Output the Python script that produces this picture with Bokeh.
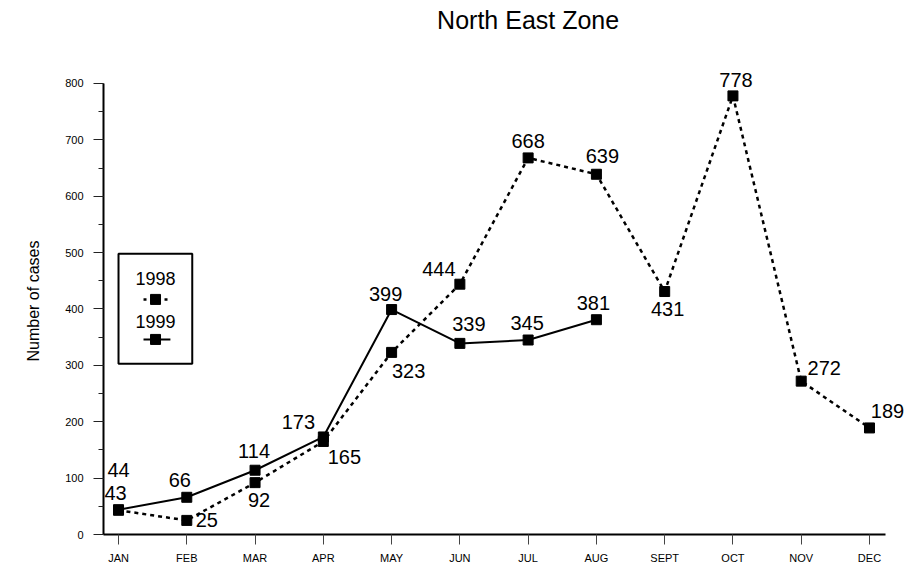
from bokeh.plotting import figure
from bokeh.models import (FixedTicker, SingleIntervalTicker, Range1d, Label,
                          BoxAnnotation, ColumnDataSource, Title)
from bokeh.embed import file_html
from bokeh.resources import INLINE
from bokeh.core.properties import value

# ---- data ----
months = ["JAN", "FEB", "MAR", "APR", "MAY", "JUN", "JUL", "AUG", "SEPT", "OCT", "NOV", "DEC"]
cases_1998 = [43, 25, 92, 165, 323, 444, 668, 639, 431, 778, 272, 189]
cases_1999 = [44, 66, 114, 173, 399, 339, 345, 381]
title_text = "North East Zone"
y_label = "Number of cases"

# label offsets (pixels) for value annotations
off_1998_x = [-3, 20, 4, 21, 17, -21, 0, 6, 3, 3, 23, 18]
off_1998_y = [17, 0, -17, -16, -19, 15, 17, 18, -17, 16, 13, 17]
off_1999_x = [0, -7, -1, -25, -6, 9, -1, -3]
off_1999_y = [40, 17, 19, 15, 16, 19, 17, 17]

FONT = "Liberation Sans"

p = figure(width=915, height=574, output_backend="svg", toolbar_location=None,
           x_range=Range1d(-0.22, 11.674), y_range=Range1d(0, 947.2),
           min_border_left=103, min_border_right=0, min_border_top=0,
           min_border_bottom=40)
p.outline_line_color = None
p.xgrid.visible = False
p.ygrid.visible = False
p.background_fill_color = "white"
p.border_fill_color = "white"

xs98 = list(range(len(cases_1998)))
xs99 = list(range(len(cases_1999)))

src98 = ColumnDataSource(dict(x=xs98, y=cases_1998, t=[str(v) for v in cases_1998],
                              dx=off_1998_x, dy=[-v for v in off_1998_y]))
src99 = ColumnDataSource(dict(x=xs99, y=cases_1999, t=[str(v) for v in cases_1999],
                              dx=off_1999_x, dy=[-v for v in off_1999_y]))

p.line("x", "y", source=src98, line_color="black", line_width=2.5, line_dash="4 4")
p.scatter("x", "y", source=src98, marker="square", size=10, color="black")
p.line("x", "y", source=src99, line_color="black", line_width=2)
p.scatter("x", "y", source=src99, marker="square", size=10, color="black")

for src in (src98, src99):
    p.text("x", "y", text="t", source=src, x_offset="dx", y_offset="dy",
           text_align="center", text_baseline="middle", text_font=value(FONT),
           text_font_size="20px", text_color="black")

# axes
xa = p.xaxis[0]
xa.ticker = FixedTicker(ticks=xs98)
xa.bounds = (-0.22, 11.234)
xa.major_label_overrides = {i: m for i, m in enumerate(months)}
xa.minor_tick_line_color = None
xa.major_tick_in = 0
xa.major_tick_out = 10
xa.major_tick_line_color = "#444444"
xa.axis_line_width = 2
xa.axis_line_color = "black"
xa.major_label_text_font = FONT
xa.major_label_text_font_size = "11px"
xa.major_label_text_color = "black"
xa.major_label_standoff = 7

ya = p.yaxis[0]
ya.ticker = SingleIntervalTicker(interval=100, num_minor_ticks=2)
ya.bounds = (0, 800)
ya.major_tick_in = 0
ya.major_tick_out = 10
ya.minor_tick_in = 0
ya.minor_tick_out = 5
ya.major_tick_line_color = "#222222"
ya.minor_tick_line_color = "#222222"
ya.axis_line_width = 2
ya.axis_line_color = "black"
ya.major_label_text_font = FONT
ya.major_label_text_font_size = "11px"
ya.major_label_text_color = "black"
ya.major_label_standoff = 10

# y axis title, placed in the left panel
p.add_layout(Title(text=y_label, align="left", offset=173, text_font=FONT,
                   text_font_size="16px", text_font_style="normal",
                   text_color="black", standoff=42), "left")

# title
p.add_layout(Label(x=6.0, y=913, text=title_text, text_align="center",
                   text_baseline="alphabetic", text_font=FONT, text_font_size="25px",
                   text_color="black"))

# legend (manual: label above sample)
p.add_layout(BoxAnnotation(left=0, right=1.08, bottom=303, top=498,
                           fill_alpha=0, line_color="black", line_alpha=1,
                           line_width=2))
p.add_layout(Label(x=0.542, y=454, text="1998", text_align="center",
                   text_baseline="middle", text_font=FONT, text_font_size="18px",
                   text_color="black"))
p.add_layout(Label(x=0.542, y=378, text="1999", text_align="center",
                   text_baseline="middle", text_font=FONT, text_font_size="18px",
                   text_color="black"))
p.line([0.366, 0.76], [417, 417], line_color="black", line_width=2.5, line_dash="3 4")
p.scatter([0.542], [417], marker="square", size=10, color="black")
p.line([0.366, 0.76], [346, 346], line_color="black", line_width=2)
p.scatter([0.542], [346], marker="square", size=10, color="black")

open("out.html", "w").write(file_html(p, INLINE))
